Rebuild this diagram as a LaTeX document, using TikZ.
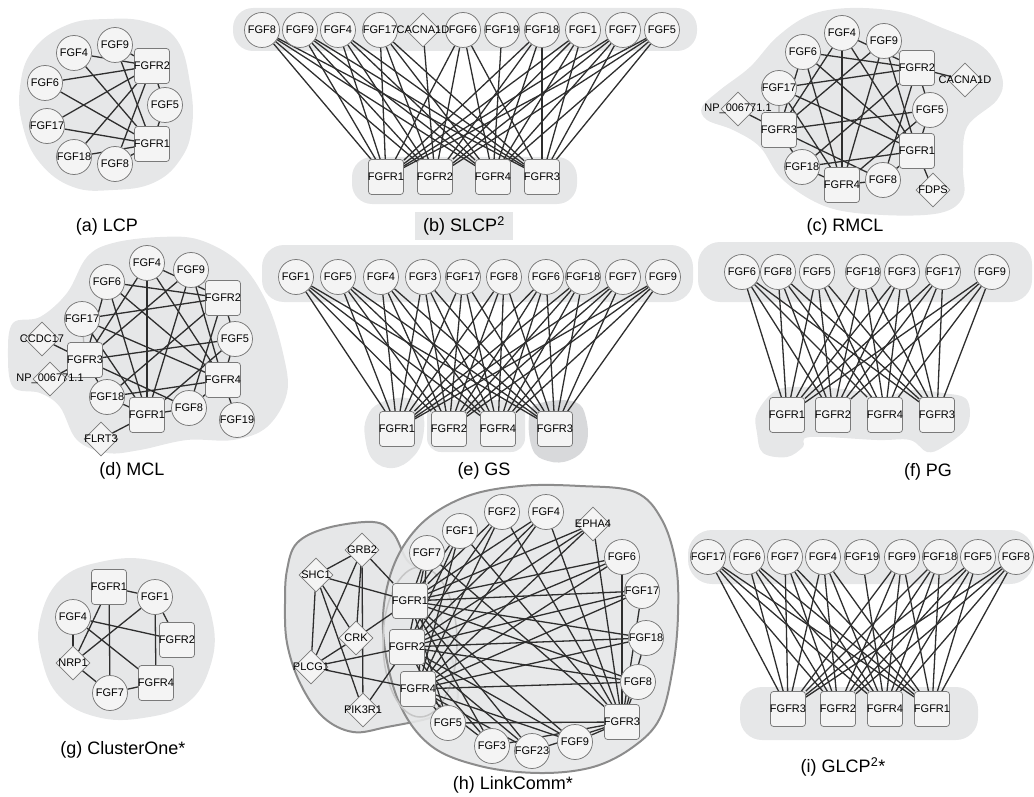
\documentclass[tikz,border=0pt]{standalone}
\usepackage{fontspec}
\setmainfont{Liberation Sans}
\usetikzlibrary{shapes.geometric}
\pgfdeclarelayer{blobs}
\pgfdeclarelayer{links}
\pgfsetlayers{blobs,links,main}

\definecolor{blobfill}{HTML}{E6E7E8}
\definecolor{blobdark}{HTML}{D8D9DB}
\definecolor{blobline}{HTML}{8C8C8C}
\definecolor{nodefill}{HTML}{F4F4F4}
\definecolor{nodeline}{HTML}{7A7A7A}
\definecolor{linkcol}{HTML}{2E2E2E}

\tikzset{
  gene/.style={circle, draw=nodeline, fill=nodefill, line width=0.75pt,
    minimum size=35pt, inner sep=0pt, font=\fontsize{11}{13}\selectfont,
    execute at begin node={\hbox to 0pt\bgroup\hss},
    execute at end node={\hss\egroup}},
  receptor/.style={gene, rectangle, rounded corners=3pt, minimum size=35pt},
  partner/.style={gene, diamond, minimum size=34pt},
  link/.style={draw=linkcol, line width=1.3pt},
  softlink/.style={draw=gray!55, line width=1.3pt},
  caption/.style={font=\fontsize{18}{21}\selectfont, inner sep=0pt},
  module/.style={fill=blobfill, draw=blobline, line width=2pt},
}

\begin{document}
\begin{tikzpicture}[x=1pt,y=-1pt]
\useasboundingbox (0,0) rectangle (1034,797);

% ---------------- (a) LCP ----------------
\node[gene] (a9) at (115,45) {FGF9};
\node[gene] (a4) at (74,53) {FGF4};
\node[receptor] (aR2) at (152,66) {FGFR2};
\node[gene] (a6) at (45,83) {FGF6};
\node[gene] (a5) at (165,105) {FGF5};
\node[gene] (a17) at (47,126) {FGF17};
\node[receptor] (aR1) at (152,144) {FGFR1};
\node[gene] (a18) at (74,157) {FGF18};
\node[gene] (a8) at (115,164) {FGF8};
\node[caption] (capA) at (107,227) {(a) LCP};

% ---------------- (b) SLCP2 ----------------
\foreach \n/\x in {8/262,9/300,4/338,17/380,6/463,19/502,18/542,1/583,7/623,5/662}
  \node[gene] (b\n) at (\x,30) {FGF\n};
\node[partner] (bCAC) at (423,30) {CACNA1D};
\foreach \n/\x in {1/386,2/435,4/493,3/542}
  \node[receptor] (bR\n) at (\x,177) {FGFR\n};
\node[caption] (capB) at (464,226) {(b) SLCP\textsuperscript{2}};

% ---------------- (c) RMCL ----------------
\node[gene] (c4) at (842,33) {FGF4};
\node[gene] (c9) at (884,41) {FGF9};
\node[gene] (c6) at (803,52) {FGF6};
\node[receptor] (cR2) at (917,68) {FGFR2};
\node[partner] (cCAC) at (965,80) {CACNA1D};
\node[gene] (c17) at (779,88) {FGF17};
\node[partner] (cNP) at (738,109) {NP\_006771.1};
\node[gene] (c5) at (930,110) {FGF5};
\node[receptor] (cR3) at (779,130) {FGFR3};
\node[receptor] (cR1) at (917,151) {FGFR1};
\node[gene] (c18) at (802,167) {FGF18};
\node[receptor] (cR4) at (842,185) {FGFR4};
\node[gene] (c8) at (883,180) {FGF8};
\node[partner] (cFD) at (933,190) {FDPS};
\node[caption] (capC) at (845,227) {(c) RMCL};

% ---------------- (d) MCL ----------------
\node[gene] (d4) at (147,263) {FGF4};
\node[gene] (d9) at (191,270) {FGF9};
\node[gene] (d6) at (107,282) {FGF6};
\node[receptor] (dR2) at (223,298) {FGFR2};
\node[gene] (d17) at (82,319) {FGF17};
\node[gene] (d5) at (235,339) {FGF5};
\node[partner] (dCC) at (42,339) {CCDC17};
\node[receptor] (dR3) at (85,360) {FGFR3};
\node[partner] (dNP) at (50,379) {NP\_006771.1};
\node[receptor] (dR4) at (223,380) {FGFR4};
\node[gene] (d18) at (107,397) {FGF18};
\node[receptor] (dR1) at (147,415) {FGFR1};
\node[gene] (d8) at (189,408) {FGF8};
\node[gene] (d19) at (237,420) {FGF19};
\node[partner] (dFL) at (101,439) {FLRT3};
\node[caption] (capD) at (132,471) {(d) MCL};

% ---------------- (e) GS ----------------
\foreach \n/\x in {1/296,5/338,4/381,3/423,17/463,8/504,6/546,18/583,7/623,9/663}
  \node[gene] (e\n) at (\x,277) {FGF\n};
\foreach \n/\x in {1/397,2/449,4/498,3/555}
  \node[receptor] (eR\n) at (\x,429) {FGFR\n};
\node[caption] (capE) at (484,471) {(e) GS};

% ---------------- (f) PG ----------------
\foreach \n/\x in {6/742,8/778,5/817,18/863,3/902,17/943,9/992}
  \node[gene] (f\n) at (\x,272) {FGF\n};
\foreach \n/\x in {1/787,2/833,4/885,3/937}
  \node[receptor] (fR\n) at (\x,415) {FGFR\n};
\node[caption] (capF) at (928,472) {(f) PG};

% ---------------- (g) ClusterOne* ----------------
\node[receptor] (gR1) at (109,587) {FGFR1};
\node[gene] (g1) at (155,597) {FGF1};
\node[gene] (g4) at (73,617) {FGF4};
\node[receptor] (gR2) at (177,640) {FGFR2};
\node[partner] (gNRP) at (73,663) {NRP1};
\node[receptor] (gR4) at (156,683) {FGFR4};
\node[gene] (g7) at (110,693) {FGF7};
\node[caption] (capG) at (123,750) {(g) ClusterOne*};

% ---------------- (h) LinkComm* ----------------
\node[gene] (h2) at (502,512) {FGF2};
\node[gene] (h4) at (546,512) {FGF4};
\node[gene] (h1) at (460,531) {FGF1};
\node[partner] (hEP) at (593,524) {EPHA4};
\node[gene] (h7) at (427,553) {FGF7};
\node[gene] (h6) at (622,557) {FGF6};
\node[partner] (hGRB) at (362,550) {GRB2};
\node[partner] (hSHC) at (316,575) {SHC1};
\node[receptor] (hR1) at (410,601) {FGFR1};
\node[gene] (h17) at (642,591) {FGF17};
\node[partner] (hCRK) at (356,638) {CRK};
\node[receptor] (hR2) at (407,647) {FGFR2};
\node[gene] (h18) at (646,638) {FGF18};
\node[partner] (hPL) at (311,667) {PLCG1};
\node[gene] (h8) at (638,682) {FGF8};
\node[receptor] (hR4) at (418,689) {FGFR4};
\node[partner] (hPIK) at (363,710) {PIK3R1};
\node[gene] (h5) at (448,723) {FGF5};
\node[receptor] (hR3) at (622,722) {FGFR3};
\node[gene] (h3) at (492,746) {FGF3};
\node[gene] (h23) at (532,751) {FGF23};
\node[gene] (h9) at (575,742) {FGF9};
\node[caption] (capH) at (513,785) {(h) LinkComm*};

% ---------------- (i) GLCP2* ----------------
\foreach \n/\x in {17/708,6/747,7/785,4/823,19/862,9/902,18/940,5/978,8/1016}
  \node[gene] (i\n) at (\x,557) {FGF\n};
\foreach \n/\x in {3/788,2/838,4/885,1/932}
  \node[receptor] (iR\n) at (\x,709) {FGFR\n};
\node[caption] (capI) at (843,767) {(i) GLCP\textsuperscript{2}*};

% ================= connectors =================
\begin{pgfonlayer}{links}
  % (a)
  \foreach \g in {4,9,6,17,18,8,5} \foreach \r in {1,2} \draw[link] (a\g) -- (aR\r);
  % (b)
  \foreach \g in {8,9,4,17,6,18,1,7,5} \foreach \r in {1,2,4,3} \draw[link] (b\g) -- (bR\r);
  \draw[link] (bCAC) -- (bR2);
  \draw[link] (b19) -- (bR4);
  % (c)
  \foreach \g in {4,6,5,18,8} \foreach \r in {1,2,3,4} \draw[link] (c\g) -- (cR\r);
  \foreach \r in {1,3,4} \draw[link] (c9) -- (cR\r);
  \foreach \r in {1,2,4} \draw[link] (c17) -- (cR\r);
  \draw[softlink] (c9) -- (cR2);
  \draw[softlink] (c17) -- (cR3);
  \draw[link] (cCAC) -- (cR2);
  \draw[link] (cNP) -- (cR3);
  \draw[link] (cFD) -- (cR1);
  % (d)
  \foreach \g in {4,6,5,18,8} \foreach \r in {1,2,3,4} \draw[link] (d\g) -- (dR\r);
  \foreach \r in {1,3,4} \draw[link] (d9) -- (dR\r);
  \foreach \r in {1,2,4} \draw[link] (d17) -- (dR\r);
  \draw[softlink] (d9) -- (dR2);
  \draw[softlink] (d17) -- (dR3);
  \draw[link] (dCC) -- (dR3);
  \draw[link] (dNP) -- (dR3);
  \draw[link] (dFL) -- (dR1);
  \draw[link] (d19) -- (dR4);
  % (e)
  \foreach \g in {1,5,4,3,17,8,6,18,7,9} \foreach \r in {1,2,4,3} \draw[link] (e\g) -- (eR\r);
  % (f)
  \foreach \g in {6,8,5,18,3,17,9} \foreach \r in {1,2,4,3} \draw[link] (f\g) -- (fR\r);
  % (g)
  \draw[link] (gR1) -- (g1);
  \draw[link] (gR1) -- (gNRP);
  \draw[link] (gR1) -- (g7);
  \draw[link] (g4) -- (gR2);
  \draw[link] (g4) -- (gR4);
  \draw[link] (g4) -- (gNRP);
  \draw[link] (g1) -- (gNRP);
  \draw[link] (g1) -- (gR2);
  \draw[link] (g1) -- (gR4);
  \draw[link] (gNRP) -- (g7);
  \draw[link] (g7) -- (gR4);
  % (h)
  \foreach \g in {1,2,4,6,7,17,18,8,5,3,23,9,EP} \foreach \r in {1,2,4,3} \draw[link] (h\g) -- (hR\r);
  \draw[link] (hGRB) -- (hSHC);
  \draw[link] (hGRB) -- (hR1);
  \draw[link] (hGRB) -- (hPL);
  \draw[link] (hGRB) -- (hPIK);
  \draw[link] (hGRB) -- (hCRK);
  \draw[link] (hSHC) -- (hR1);
  \draw[link] (hSHC) -- (hPL);
  \draw[link] (hSHC) -- (hCRK);
  \draw[link] (hSHC) -- (hPIK);
  \draw[link] (hCRK) -- (hR1);
  \draw[link] (hCRK) -- (hPL);
  \draw[link] (hPL) -- (hR2);
  \draw[link] (hPL) -- (hR4);
  \draw[link] (hPIK) -- (hR2);
  % (i)
  \foreach \g in {17,6,7,4,9,18,5,8} \foreach \r in {1,2,4,3} \draw[link] (i\g) -- (iR\r);
  \draw[link] (i19) -- (iR4);
\end{pgfonlayer}

% ================= cluster outlines =================
\begin{pgfonlayer}{blobs}
  % (a)
  \fill[blobfill] plot[smooth cycle, tension=0.7] coordinates {
    (33,50) (67,25) (107,19) (147,22) (177,40) (190,83) (192,127) (180,160)
    (153,183) (113,190) (73,187) (40,163) (23,127) (20,87)};
  % (b)
  \fill[blobfill, rounded corners=20pt] (233,8) rectangle (697,51);
  \fill[blobfill, rounded corners=20pt] (352,157) rectangle (577,204);
  \fill[blobfill] (415,212) rectangle (513,240);
  % (c)
  \fill[blobfill] plot[smooth cycle, tension=0.6] coordinates {
    (702,107) (720,90) (750,67) (777,37) (810,15) (850,8) (900,12) (940,27)
    (983,47) (1002,77) (997,100) (967,127) (963,167) (963,197) (940,213)
    (883,215) (827,207) (783,180) (760,147) (733,130) (707,120)};
  % (d)
  \fill[blobfill] plot[smooth cycle, tension=0.6] coordinates {
    (13,323) (40,317) (67,293) (87,257) (113,243) (160,237) (200,240) (240,263)
    (267,303) (283,353) (287,393) (267,427) (233,440) (187,440) (140,450)
    (107,453) (77,440) (60,407) (40,393) (13,387) (8,353)};
  % (e)
  \fill[blobfill, rounded corners=22pt] (262,245) rectangle (693,302);
  \fill[blobfill] plot[smooth cycle, tension=0.7] coordinates {
    (367,417) (380,403) (407,398) (422,410) (423,437) (413,457) (393,468)
    (373,460) (365,437)};
  \fill[blobfill, rounded corners=14pt] (427,400) rectangle (525,452);
  \fill[blobdark] plot[smooth cycle, tension=0.7] coordinates {
    (530,412) (545,402) (575,402) (586,418) (586,445) (570,460) (548,461) (532,448)};
  % (f)
  \fill[blobfill, rounded corners=22pt] (698,242) rectangle (1032,302);
  \fill[blobfill] plot[smooth cycle, tension=0.6] coordinates {
    (757,413) (777,390) (810,387) (850,390) (883,397) (910,390) (943,393)
    (967,400) (967,427) (943,447) (927,452) (910,440) (877,440) (810,437)
    (803,447) (787,457) (763,453) (757,433)};
  % (g)
  \fill[blobfill] plot[smooth cycle, tension=0.7] coordinates {
    (40,620) (60,580) (100,562) (150,560) (193,580) (213,623) (210,667)
    (187,703) (143,718) (97,717) (60,697) (42,660)};
  % (h)
  \filldraw[module] plot[smooth cycle, tension=0.6] coordinates {
    (287,570) (297,543) (327,528) (373,522) (393,533) (407,560) (427,580)
    (450,650) (457,703) (433,717) (387,727) (353,732) (323,717) (300,683)
    (287,643) (285,603)};
  \filldraw[module, fill opacity=0.9] plot[smooth cycle, tension=0.6] coordinates {
    (383,630) (392,570) (420,525) (465,497) (520,486) (580,486) (635,492)
    (662,520) (676,565) (678,615) (673,667) (660,718) (633,747) (593,767)
    (540,773) (480,766) (430,745) (398,700)};
  \draw[blobline!50, line width=1.5pt] (420,642) ellipse [x radius=37, y radius=75];
  % (i)
  \fill[blobfill, rounded corners=24pt] (688,530) rectangle (1034,584);
  \fill[blobfill, rounded corners=22pt] (740,687) rectangle (978,740);
\end{pgfonlayer}
\end{tikzpicture}
\end{document}
